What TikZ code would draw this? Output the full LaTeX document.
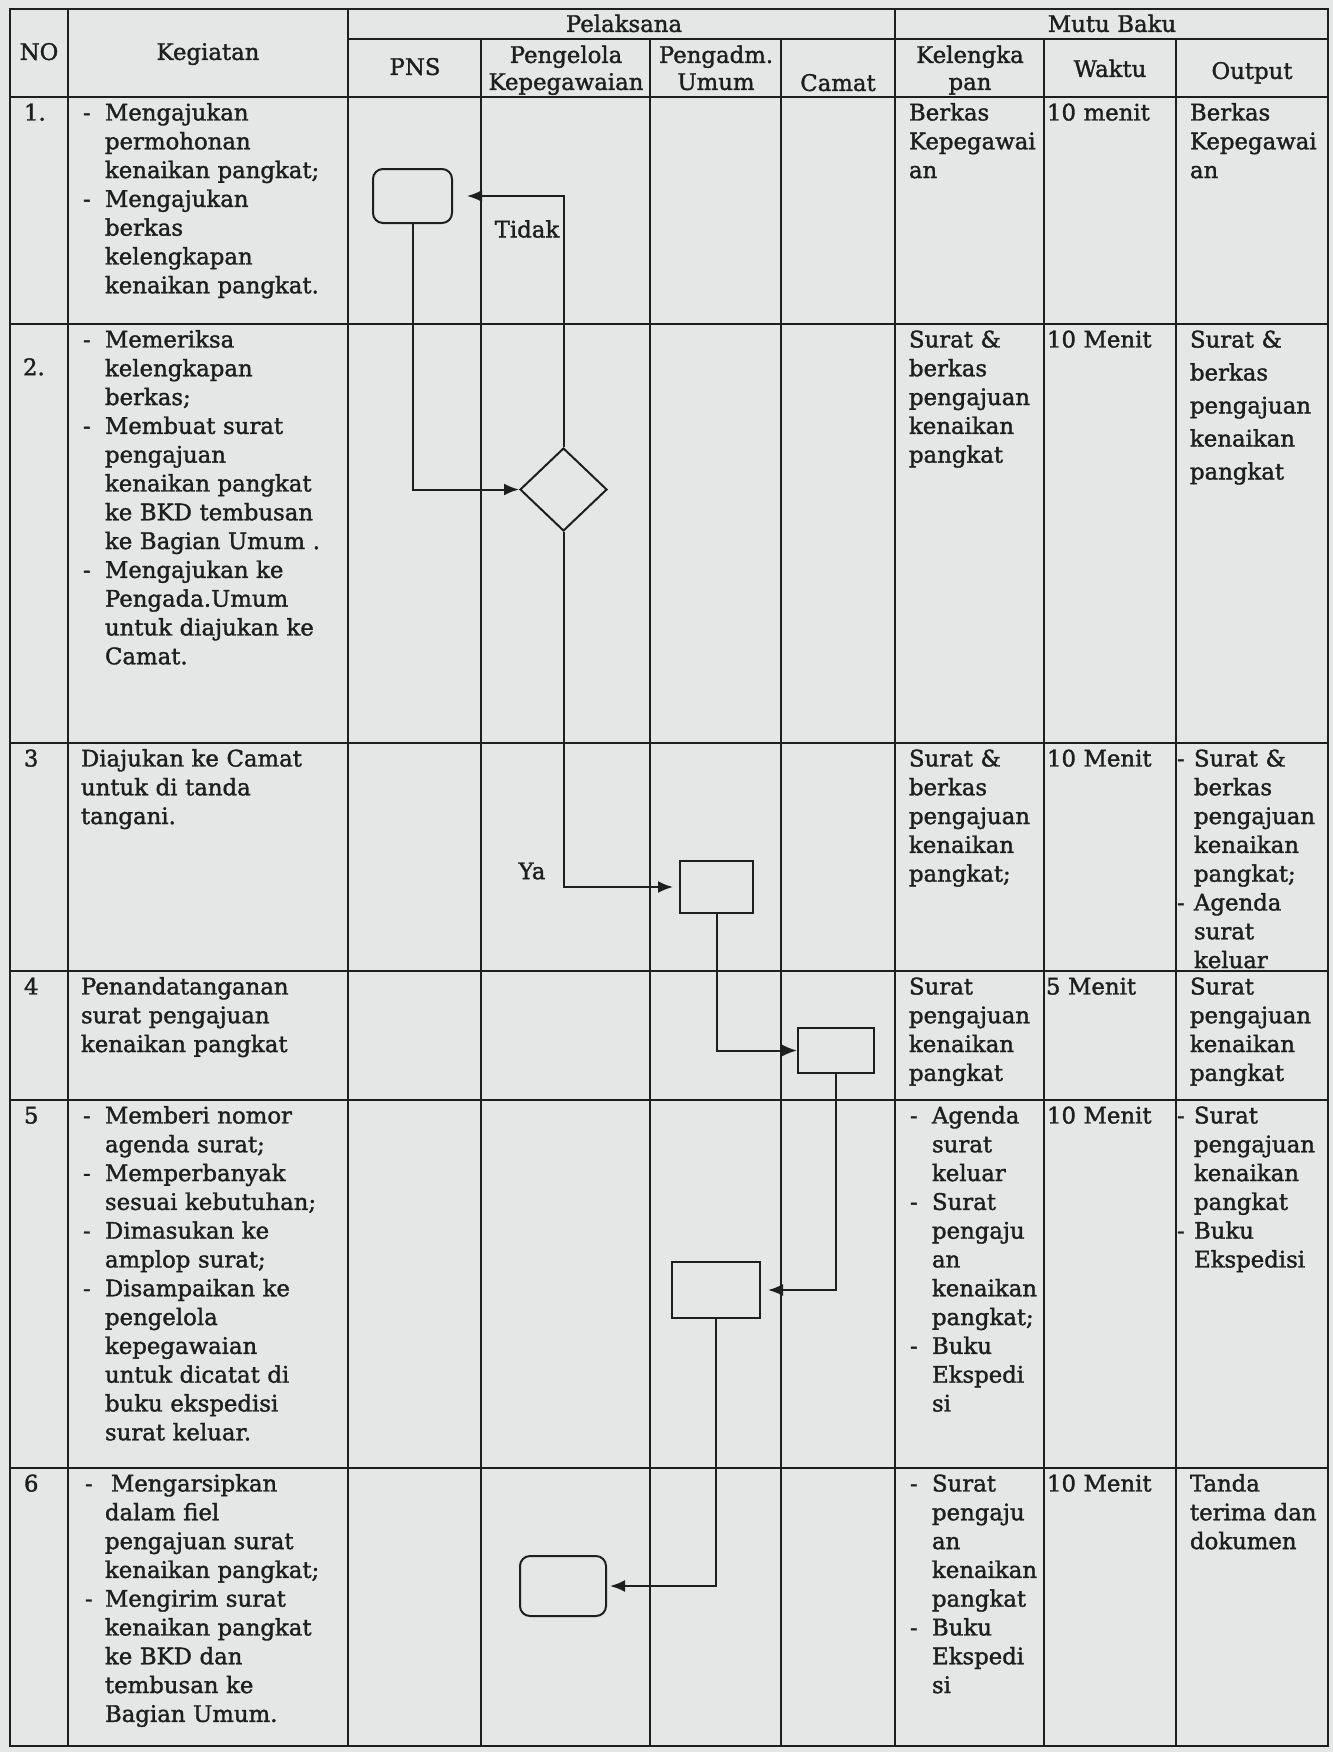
\documentclass[tikz,border=0pt]{standalone}
\usepackage{fontspec}
\setmainfont{DejaVu Serif}[FakeBold=1.5]
\usetikzlibrary{shapes.geometric,arrows.meta}
\definecolor{paper}{RGB}{228,231,229}
\definecolor{ink}{RGB}{30,30,30}
\newcommand\bodyfont{\fontsize{11.4}{14.4}\selectfont}
\newcommand\hdfont{\fontsize{11.4}{13.5}\selectfont}
\newcommand\widefont{\fontsize{11.4}{16.5}\selectfont}
\newcommand\dsh[1][11pt]{\makebox[#1][l]{-}}
\newcommand\ind[1][11pt]{\hspace*{#1}}
\begin{document}
\begin{tikzpicture}[x=0.5pt,y=-0.5pt,
  grid/.style={draw=ink, line width=0.9pt},
  cell/.style={anchor=north west, inner sep=0pt, outer sep=0pt, text width=260pt, align=left, font=\bodyfont, text=ink},
  hdr/.style={anchor=north, inner sep=0pt, outer sep=0pt, text width=100pt, align=center, font=\hdfont, text=ink},
  sbox/.style={draw=ink, line width=1pt, rectangle, inner sep=0pt},
  rbox/.style={sbox, rounded corners=5pt},
  dec/.style={draw=ink, line width=1pt, diamond, inner sep=0pt, minimum width=43.5pt, minimum height=41.5pt},
  flow/.style={draw=ink, line width=1pt, -{Latex[length=7.5pt,width=6pt]}},
  lbl/.style={inner sep=0pt, font=\bodyfont, text=ink}]
\useasboundingbox (0,0) rectangle (1333,1752);
\fill[paper] (0,0) rectangle (1333,1752);

% ---------- table grid ----------
\draw[grid] (10,9) rectangle (1328,1746);
\draw[grid] (348,39) -- (1328,39);
\foreach \yy in {97,324,743,971,1100,1468} \draw[grid] (10,\yy) -- (1328,\yy);
\foreach \xx in {68,348,895} \draw[grid] (\xx,9) -- (\xx,1746);
\foreach \xx in {481,650,781,1044,1176} \draw[grid] (\xx,39) -- (\xx,1746);

% ---------- header ----------
\node[hdr] (hpel) at (624,13) {\strut Pelaksana};
\node[hdr] (hmutu) at (1112,13) {\strut Mutu Baku};
\node[hdr] (hno) at (39,41) {\strut NO};
\node[hdr] (hkeg) at (208,41) {\strut Kegiatan};
\node[hdr] (hpns) at (415,56) {\strut PNS};
\node[hdr] (hpk) at (566,44) {\strut Pengelola\\Kepegawaian};
\node[hdr] (hpu) at (716,44) {\strut Pengadm.\\Umum};
\node[hdr] (hcam) at (838,72) {\strut Camat};
\node[hdr] (hkel) at (970,44) {\strut Kelengka\\pan};
\node[hdr] (hwak) at (1110,58) {\strut Waktu};
\node[hdr] (hout) at (1252,60) {\strut Output};

% ---------- row 1 ----------
\node[cell] (n1) at (24,100.3) {\strut 1.};
\node[cell] (k1) at (83,100.3) {\strut\dsh Mengajukan\\ \ind permohonan\\ \ind kenaikan pangkat;\\ \dsh Mengajukan\\ \ind berkas\\ \ind kelengkapan\\ \ind kenaikan pangkat.};
\node[cell] (l1) at (909,100.3) {\strut Berkas\\Kepegawai\\an};
\node[cell] (w1) at (1047,100.3) {\strut 10 menit};
\node[cell] (o1) at (1190,100.3) {\strut Berkas\\Kepegawai\\an};

% ---------- row 2 ----------
\node[cell] (n2) at (23,355) {\strut 2.};
\node[cell] (k2) at (83,327.3) {\strut\dsh Memeriksa\\ \ind kelengkapan\\ \ind berkas;\\ \dsh Membuat surat\\ \ind pengajuan\\ \ind kenaikan pangkat\\ \ind ke BKD tembusan\\ \ind ke Bagian Umum .\\ \dsh Mengajukan ke\\ \ind Pengada.Umum\\ \ind untuk diajukan ke\\ \ind Camat.};
\node[cell] (l2) at (909,327.3) {\strut Surat \&\\berkas\\pengajuan\\kenaikan\\pangkat};
\node[cell] (w2) at (1047,327.3) {\strut 10 Menit};
\node[cell, font=\widefont] (o2) at (1190,324.4) {\strut Surat \&\\berkas\\pengajuan\\kenaikan\\pangkat};

% ---------- row 3 ----------
\node[cell] (n3) at (24,746.3) {\strut 3};
\node[cell] (k3) at (81,746.3) {\strut Diajukan ke Camat\\untuk di tanda\\tangani.};
\node[cell] (l3) at (909,746.3) {\strut Surat \&\\berkas\\pengajuan\\kenaikan\\pangkat;};
\node[cell] (w3) at (1047,746.3) {\strut 10 Menit};
\node[cell] (o3) at (1177,746.3) {\strut\dsh[8.5pt]Surat \&\\ \ind[8.5pt]berkas\\ \ind[8.5pt]pengajuan\\ \ind[8.5pt]kenaikan\\ \ind[8.5pt]pangkat;\\ \dsh[8.5pt]Agenda\\ \ind[8.5pt]surat\\ \ind[8.5pt]keluar};

% ---------- row 4 ----------
\node[cell] (n4) at (24,974.3) {\strut 4};
\node[cell] (k4) at (81,974.3) {\strut Penandatanganan\\surat pengajuan\\kenaikan pangkat};
\node[cell] (l4) at (909,974.3) {\strut Surat\\pengajuan\\kenaikan\\pangkat};
\node[cell] (w4) at (1046,974.3) {\strut 5 Menit};
\node[cell] (o4) at (1190,974.3) {\strut Surat\\pengajuan\\kenaikan\\pangkat};

% ---------- row 5 ----------
\node[cell] (n5) at (24,1103.3) {\strut 5};
\node[cell] (k5) at (83,1103.3) {\strut\dsh Memberi nomor\\ \ind agenda surat;\\ \dsh Memperbanyak\\ \ind sesuai kebutuhan;\\ \dsh Dimasukan ke\\ \ind amplop surat;\\ \dsh Disampaikan ke\\ \ind pengelola\\ \ind kepegawaian\\ \ind untuk dicatat di\\ \ind buku ekspedisi\\ \ind surat keluar.};
\node[cell] (l5) at (910,1103.3) {\strut\dsh Agenda\\ \ind surat\\ \ind keluar\\ \dsh Surat\\ \ind pengaju\\ \ind an\\ \ind kenaikan\\ \ind pangkat;\\ \dsh Buku\\ \ind Ekspedi\\ \ind si};
\node[cell] (w5) at (1047,1103.3) {\strut 10 Menit};
\node[cell] (o5) at (1177,1103.3) {\strut\dsh[8.5pt]Surat\\ \ind[8.5pt]pengajuan\\ \ind[8.5pt]kenaikan\\ \ind[8.5pt]pangkat\\ \dsh[8.5pt]Buku\\ \ind[8.5pt]Ekspedisi};

% ---------- row 6 ----------
\node[cell] (n6) at (24,1471.3) {\strut 6};
\node[cell] (k6) at (85,1471.3) {\strut\dsh[13pt]Mengarsipkan\\ \ind[10pt]dalam fiel\\ \ind[10pt]pengajuan surat\\ \ind[10pt]kenaikan pangkat;\\ \dsh[10pt]Mengirim surat\\ \ind[10pt]kenaikan pangkat\\ \ind[10pt]ke BKD dan\\ \ind[10pt]tembusan ke\\ \ind[10pt]Bagian Umum.};
\node[cell] (l6) at (910,1471.3) {\strut\dsh Surat\\ \ind pengaju\\ \ind an\\ \ind kenaikan\\ \ind pangkat\\ \dsh Buku\\ \ind Ekspedi\\ \ind si};
\node[cell] (w6) at (1047,1471.3) {\strut 10 Menit};
\node[cell] (o6) at (1190,1471.3) {\strut Tanda\\terima dan\\dokumen};

% ---------- flowchart ----------
\node[rbox, minimum width=39.5pt, minimum height=27pt] (b1) at (412.5,196) {};
\node[dec] (d) at (563.5,489.5) {};
\node[sbox, minimum width=36.5pt, minimum height=26pt] (b2) at (716.5,887) {};
\node[sbox, minimum width=38pt, minimum height=22.5pt] (b3) at (836,1050.5) {};
\node[sbox, minimum width=44pt, minimum height=28pt] (b4) at (716,1290) {};
\node[rbox, minimum width=43pt, minimum height=30pt] (b5) at (563,1586) {};

\node[lbl] (tidak) at (527,229) {Tidak};
\node[lbl] (ya) at (532,871) {Ya};

\draw[flow] (b1.south) |- (d.west);
\draw[flow, shorten >=7pt] (d.north) |- (b1.east);
\draw[flow, shorten >=3pt] (d.south) |- (b2.west);
\draw[flow] (b2.south) |- (b3.west);
\draw[flow, shorten >=3.5pt] (b3.south) |- (b4.east);
\draw[flow, shorten >=1.5pt] (b4.south) |- (b5.east);
\end{tikzpicture}
\end{document}
